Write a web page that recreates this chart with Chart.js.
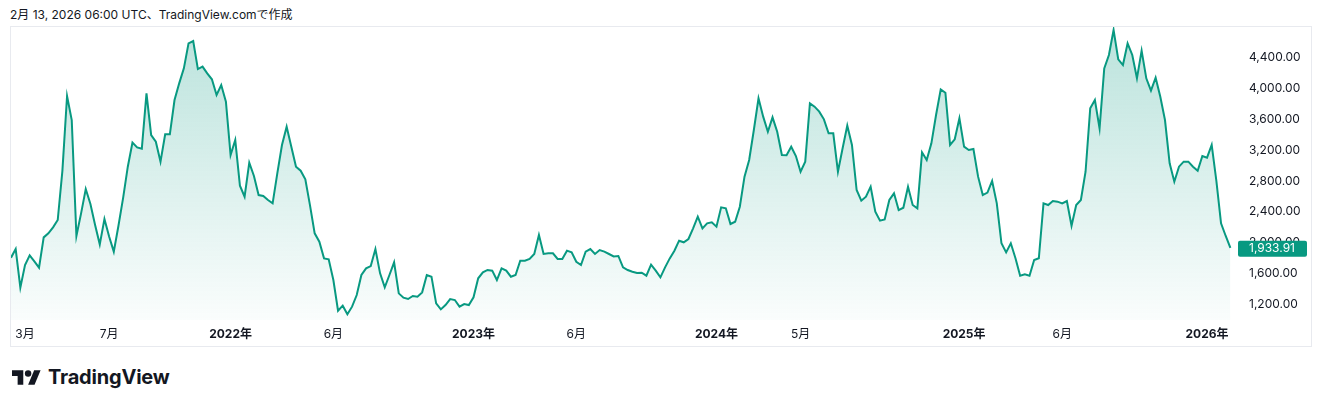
<!DOCTYPE html>
<html>
<head>
<meta charset="utf-8">
<script src="https://cdn.jsdelivr.net/npm/chart.js@4.4.1/dist/chart.umd.min.js"></script>
<style>
  body { margin: 0; background: #fff; width: 1322px; height: 407px; position: relative; overflow: hidden;
         font-family: Inter, 'Noto Sans CJK JP', sans-serif; color: #131722; }
  #caption { position: absolute; left: 10px; top: 7px; font-size: 12px; line-height: 16px; }
  #frame { position: absolute; left: 10px; top: 26px; width: 1302px; height: 321px;
           border: 1px solid #e8eaef; box-sizing: border-box; }
  #chart { position: absolute; left: 11px; top: 27px; }
  #logo { position: absolute; left: 12px; top: 364px; height: 26px; display: flex; align-items: center; }
  #logo svg { margin-right: 7px; }
  #logo span { font-size: 20px; font-weight: 700; letter-spacing: -0.2px; color: #131722; }
</style>
</head>
<body>
<div id="caption">2月 13, 2026 06:00 UTC、TradingView.comで作成</div>
<div id="frame"></div>
<canvas id="chart" width="1300" height="319"></canvas>
<div id="logo">
  <svg width="29" height="15" viewBox="0 4 36 18"><path fill="#131722" d="M14 22H7V11H0V4h14v18z"/><circle fill="#131722" cx="20" cy="8" r="4"/><path fill="#131722" d="M28 22h-8l7.5-18h8L28 22z"/></svg>
  <span>TradingView</span>
</div>
<script>
// weekly closes, first bar = week of 2021-02-08, last = week of 2026-02-09
const prices = [
  1806, 1918, 1418, 1711, 1836, 1759, 1677, 2069, 2121, 2199,
  2294, 2930, 3899, 3588, 2087, 2380, 2695, 2500, 2230, 1979,
  2307, 2080, 1884, 2220, 2580, 2984, 3295, 3234, 3217, 3933,
  3394, 3308, 3049, 3403, 3403, 3847, 4063, 4257, 4581, 4611,
  4248, 4279, 4192, 4115, 3912, 4041, 3826, 3135, 3329, 2738,
  2596, 3036, 2863, 2617, 2604, 2553, 2510, 2898, 3265, 3502,
  3243, 2984, 2932, 2820, 2484, 2121, 2013, 1797, 1785, 1517,
  1120, 1185, 1073, 1172, 1323, 1582, 1668, 1698, 1918, 1603,
  1422, 1582, 1746, 1344, 1288, 1271, 1310, 1301, 1357, 1582,
  1560, 1215, 1137, 1193, 1271, 1258, 1172, 1206, 1193, 1293,
  1539, 1616, 1647, 1638, 1517, 1668, 1638, 1560, 1582, 1767,
  1767, 1789, 1854, 2100, 1854, 1862, 1862, 1789, 1789, 1897,
  1875, 1754, 1711, 1884, 1918, 1854, 1905, 1884, 1854, 1823,
  1828, 1681, 1646, 1625, 1608, 1612, 1573, 1716, 1638, 1552,
  1681, 1797, 1897, 2026, 2005, 2048, 2186, 2337, 2186, 2251,
  2264, 2207, 2458, 2445, 2242, 2272, 2466, 2855, 3071, 3459,
  3869, 3632, 3437, 3623, 3437, 3135, 3131, 3243, 3122, 2919,
  3049, 3804, 3761, 3696, 3597, 3416, 3416, 2919, 3222, 3515,
  3265, 2682, 2544, 2596, 2725, 2402, 2285, 2302, 2553, 2639,
  2423, 2453, 2725, 2488, 2445, 3170, 3071, 3286, 3653, 3985,
  3942, 3265, 3338, 3610, 3243, 3200, 3213, 2855, 2617, 2648,
  2799, 2510, 1992, 1875, 1992, 1798, 1573, 1590, 1573, 1776,
  1798, 2509, 2488, 2540, 2531, 2509, 2540, 2220, 2488, 2553,
  2919, 3739, 3847, 3480, 4257, 4430, 4753, 4374, 4300, 4581,
  4430, 4128, 4486, 4128, 3968, 4136, 3890, 3588, 3027, 2790,
  2984, 3049, 3049, 2984, 2932, 3122, 3101, 3265, 2800, 2251,
  2087, 1933.91
];

// time axis: bar index of each labelled week
const tickWeeks = [3, 21, 47, 69, 99, 121, 151, 169, 204, 225, 256];
const tickLabels = ['3月', '7月', '2022年', '6月', '2023年', '6月', '2024年', '5月', '2025年', '6月', '2026年'];

// price axis
const priceTicks = [1200, 1600, 2000, 2400, 2800, 3200, 3600, 4000, 4400];

const FONT = "Inter, 'Noto Sans CJK JP', sans-serif";
const GREEN = '#089981';
const fmt = v => v.toLocaleString('en-US', { minimumFractionDigits: 2, maximumFractionDigits: 2 });

// green box with the last close on the price axis
const lastPriceLabel = {
  id: 'lastPriceLabel',
  afterDraw(chart) {
    const { ctx, chartArea, scales } = chart;
    const v = prices[prices.length - 1];
    const y = scales.y.getPixelForValue(v);
    ctx.save();
    ctx.fillStyle = GREEN;
    ctx.beginPath();
    ctx.roundRect(chartArea.right, y - 7, 69, 16, 2);
    ctx.fill();
    ctx.fillStyle = '#fff';
    ctx.font = '12px ' + FONT;
    ctx.textAlign = 'left';
    ctx.textBaseline = 'middle';
    ctx.fillText(fmt(v), chartArea.right + 11, y + 1);
    ctx.restore();
  }
};

new Chart(document.getElementById('chart').getContext('2d'), {
  type: 'line',
  data: {
    datasets: [{
      data: prices.map((p, i) => ({ x: i, y: p })),
      borderColor: GREEN,
      borderWidth: 2,
      pointRadius: 0,
      tension: 0,
      fill: 'start',
      clip: false,
      backgroundColor: c => {
        const a = c.chart.chartArea;
        if (!a) return 'rgba(8,153,129,0.1)';
        const g = c.chart.ctx.createLinearGradient(0, a.top, 0, a.bottom);
        g.addColorStop(0, 'rgba(8,153,129,0.28)');
        g.addColorStop(1, 'rgba(8,153,129,0.02)');
        return g;
      }
    }]
  },
  options: {
    responsive: false,
    animation: false,
    layout: { padding: 0 },
    plugins: { legend: { display: false }, tooltip: { enabled: false } },
    scales: {
      x: {
        type: 'linear',
        min: 0,
        max: 262.63,
        grid: { display: false, drawTicks: false },
        border: { display: false },
        afterBuildTicks: s => { s.ticks = tickWeeks.map(v => ({ value: v })); },
        afterFit: s => { s.height = 26; s.paddingLeft = 0; s.paddingRight = 0; },
        ticks: {
          autoSkip: false,
          maxRotation: 0,
          padding: 7,
          color: '#131722',
          font: c => ({ family: FONT, size: 12, weight: tickLabels[c.index] && tickLabels[c.index].includes('年') ? 'bold' : 'normal' }),
          callback: (v, i) => tickLabels[i]
        }
      },
      y: {
        position: 'right',
        min: 999.4,
        max: 4792.2,
        grid: { display: false, drawTicks: false },
        border: { display: false },
        afterBuildTicks: s => { s.ticks = priceTicks.map(v => ({ value: v })); },
        // fixed axis width, and no extra top/bottom room for the labels
        afterFit: s => { s.width = 73; s.paddingTop = 0; s.paddingBottom = 0; },
        ticks: {
          padding: 11,
          color: '#131722',
          font: { family: FONT, size: 12 },
          callback: v => fmt(v)
        }
      }
    }
  },
  plugins: [lastPriceLabel]
});
</script>
</body>
</html>
